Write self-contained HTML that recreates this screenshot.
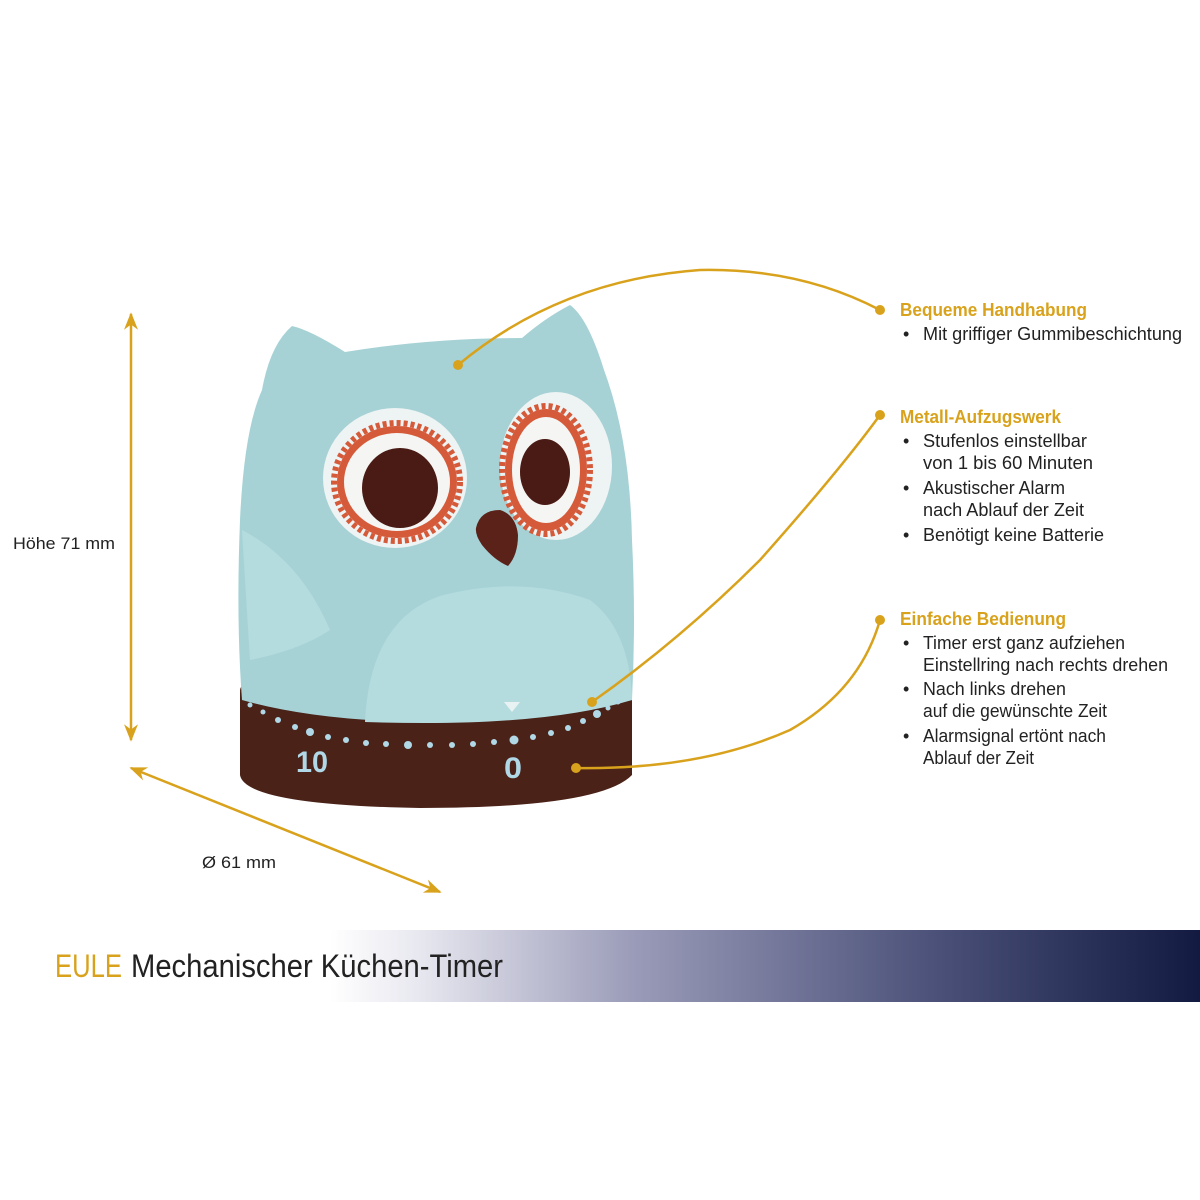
<!DOCTYPE html>
<html><head><meta charset="utf-8"><style>
html,body{margin:0;padding:0;background:#fff}
svg{display:block}
text{font-family:"Liberation Sans Narrow","Liberation Sans",sans-serif}
</style></head><body>
<svg width="1200" height="1200" viewBox="0 0 1200 1200" xmlns="http://www.w3.org/2000/svg">
<defs>
<linearGradient id="ban" x1="0" x2="1" y1="0" y2="0">
<stop offset="0" stop-color="#fff"/>
<stop offset="0.1" stop-color="#e8e8f0"/>
<stop offset="0.35" stop-color="#9a9bb8"/>
<stop offset="0.7" stop-color="#4a5078"/>
<stop offset="1" stop-color="#121a42"/>
</linearGradient>
<marker id="ar" viewBox="0 0 10 10" refX="9" refY="5" markerWidth="7" markerHeight="7" orient="auto-start-reverse"><path d="M0,1 L10,5 L0,9 L3,5z" fill="#d9a21c"/></marker>
</defs>
<rect x="330" y="930" width="870" height="72" fill="url(#ban)"/>
<text x="55" y="977" font-size="32" fill="#d9a21c" textLength="67" lengthAdjust="spacingAndGlyphs">EULE</text>
<text x="131" y="977" font-size="32" fill="#222" textLength="372" lengthAdjust="spacingAndGlyphs">Mechanischer Küchen-Timer</text>

<line x1="131" y1="314" x2="131" y2="740" stroke="#d9a21c" stroke-width="2.5" marker-start="url(#ar)" marker-end="url(#ar)"/>
<line x1="131" y1="768" x2="440" y2="892" stroke="#d9a21c" stroke-width="2.5" marker-start="url(#ar)" marker-end="url(#ar)"/>
<text x="13" y="549" font-size="17" fill="#222" textLength="102" lengthAdjust="spacingAndGlyphs">Höhe 71 mm</text>
<text x="202" y="868" font-size="17" fill="#222" textLength="74" lengthAdjust="spacingAndGlyphs">Ø 61 mm</text>

<path d="M240,690 L240,775 Q245,805 420,808 Q600,808 632,775 L632,690 Z" fill="#4a2218"/>
<ellipse cx="436" cy="690" rx="196" ry="28" fill="#5a2a1e"/>
<path d="M242,700 Q236,620 240,520 Q244,430 262,390 Q270,345 292,326 Q310,330 345,352 Q430,338 522,338 Q545,318 570,305 Q588,318 604,370 Q630,440 632,540 Q636,620 632,700 Q540,722 436,722 Q320,722 242,700 Z" fill="#a6d2d6"/>
<path d="M242,530 Q300,560 330,630 Q300,650 250,660 Z" fill="#b4dcdf"/>
<path d="M365,722 Q370,620 440,596 Q520,575 590,600 Q630,630 632,700 Q540,728 365,722 Z" fill="#b4dcdf"/>
<ellipse cx="395" cy="478" rx="72" ry="70" fill="#eef3f3"/>
<ellipse cx="397" cy="482" rx="63" ry="59" fill="none" stroke="#d55a3a" stroke-width="6" stroke-dasharray="4 3"/>
<ellipse cx="397" cy="482" rx="60" ry="56" fill="#d55a3a"/>
<ellipse cx="397" cy="482" rx="53" ry="49" fill="#f5f5f3"/>
<ellipse cx="400" cy="488" rx="38" ry="40" fill="#4a1a14"/>
<ellipse cx="556" cy="466" rx="56" ry="74" fill="#eef3f3"/>
<ellipse cx="546" cy="470" rx="44" ry="64" fill="none" stroke="#d55a3a" stroke-width="6" stroke-dasharray="4 3"/>
<ellipse cx="546" cy="470" rx="41" ry="61" fill="#d55a3a"/>
<ellipse cx="546" cy="470" rx="34" ry="53" fill="#f5f5f3"/>
<ellipse cx="545" cy="472" rx="25" ry="33" fill="#4a1a14"/>
<path d="M476,528 Q480,510 500,510 Q516,515 518,535 Q518,555 508,566 Q494,560 482,545 Q475,535 476,528 Z" fill="#5a2218"/>
<g fill="#b0d8e6">
<circle cx="250" cy="705" r="2.5"/><circle cx="263" cy="712" r="2.5"/><circle cx="278" cy="720" r="3"/><circle cx="295" cy="727" r="3"/><circle cx="310" cy="732" r="4"/><circle cx="328" cy="737" r="3"/><circle cx="346" cy="740" r="3"/><circle cx="366" cy="743" r="3"/><circle cx="386" cy="744" r="3"/><circle cx="408" cy="745" r="4"/><circle cx="430" cy="745" r="3"/><circle cx="452" cy="745" r="3"/><circle cx="473" cy="744" r="3"/><circle cx="494" cy="742" r="3"/><circle cx="514" cy="740" r="4.5"/><circle cx="533" cy="737" r="3"/><circle cx="551" cy="733" r="3"/><circle cx="568" cy="728" r="3"/><circle cx="583" cy="721" r="3"/><circle cx="597" cy="714" r="4"/><circle cx="608" cy="708" r="2.5"/><circle cx="618" cy="702" r="2.5"/>
</g>
<path d="M504,702 L520,702 L512,712 Z" fill="#e8f2f2"/>
<text x="296" y="772" font-size="30" font-weight="bold" fill="#b0d8e6" textLength="32" lengthAdjust="spacingAndGlyphs">10</text>
<text x="504" y="778" font-size="30" font-weight="bold" fill="#b0d8e6" textLength="18" lengthAdjust="spacingAndGlyphs">0</text>

<g stroke="#d9a21c" stroke-width="2.5" fill="none">
<path d="M458,365 Q560,280 700,270 Q800,268 880,310"/>
<path d="M592,702 Q680,640 760,560 Q840,470 880,415"/>
<path d="M576,768 Q700,770 790,730 Q860,690 880,620"/>
</g>
<g fill="#d9a21c">
<circle cx="458" cy="365" r="5"/><circle cx="880" cy="310" r="5"/>
<circle cx="592" cy="702" r="5"/><circle cx="880" cy="415" r="5"/>
<circle cx="576" cy="768" r="5"/><circle cx="880" cy="620" r="5"/>
</g>

<g font-size="18" fill="#222">
<text x="900" y="316" font-weight="bold" fill="#d9a21c" textLength="187" lengthAdjust="spacingAndGlyphs">Bequeme Handhabung</text>
<text x="903" y="340">•</text><text x="923" y="340" textLength="259" lengthAdjust="spacingAndGlyphs">Mit griffiger Gummibeschichtung</text>
<text x="900" y="423" font-weight="bold" fill="#d9a21c" textLength="161" lengthAdjust="spacingAndGlyphs">Metall-Aufzugswerk</text>
<text x="903" y="447">•</text><text x="923" y="447" textLength="164" lengthAdjust="spacingAndGlyphs">Stufenlos einstellbar</text>
<text x="923" y="469" textLength="170" lengthAdjust="spacingAndGlyphs">von 1 bis 60 Minuten</text>
<text x="903" y="494">•</text><text x="923" y="494" textLength="142" lengthAdjust="spacingAndGlyphs">Akustischer Alarm</text>
<text x="923" y="516" textLength="161" lengthAdjust="spacingAndGlyphs">nach Ablauf der Zeit</text>
<text x="903" y="541">•</text><text x="923" y="541" textLength="181" lengthAdjust="spacingAndGlyphs">Benötigt keine Batterie</text>
<text x="900" y="625" font-weight="bold" fill="#d9a21c" textLength="166" lengthAdjust="spacingAndGlyphs">Einfache Bedienung</text>
<text x="903" y="649">•</text><text x="923" y="649" textLength="202" lengthAdjust="spacingAndGlyphs">Timer erst ganz aufziehen</text>
<text x="923" y="671" textLength="245" lengthAdjust="spacingAndGlyphs">Einstellring nach rechts drehen</text>
<text x="903" y="695">•</text><text x="923" y="695" textLength="143" lengthAdjust="spacingAndGlyphs">Nach links drehen</text>
<text x="923" y="717" textLength="184" lengthAdjust="spacingAndGlyphs">auf die gewünschte Zeit</text>
<text x="903" y="742">•</text><text x="923" y="742" textLength="183" lengthAdjust="spacingAndGlyphs">Alarmsignal ertönt nach</text>
<text x="923" y="764" textLength="111" lengthAdjust="spacingAndGlyphs">Ablauf der Zeit</text>
</g>
</svg>
</body></html>
